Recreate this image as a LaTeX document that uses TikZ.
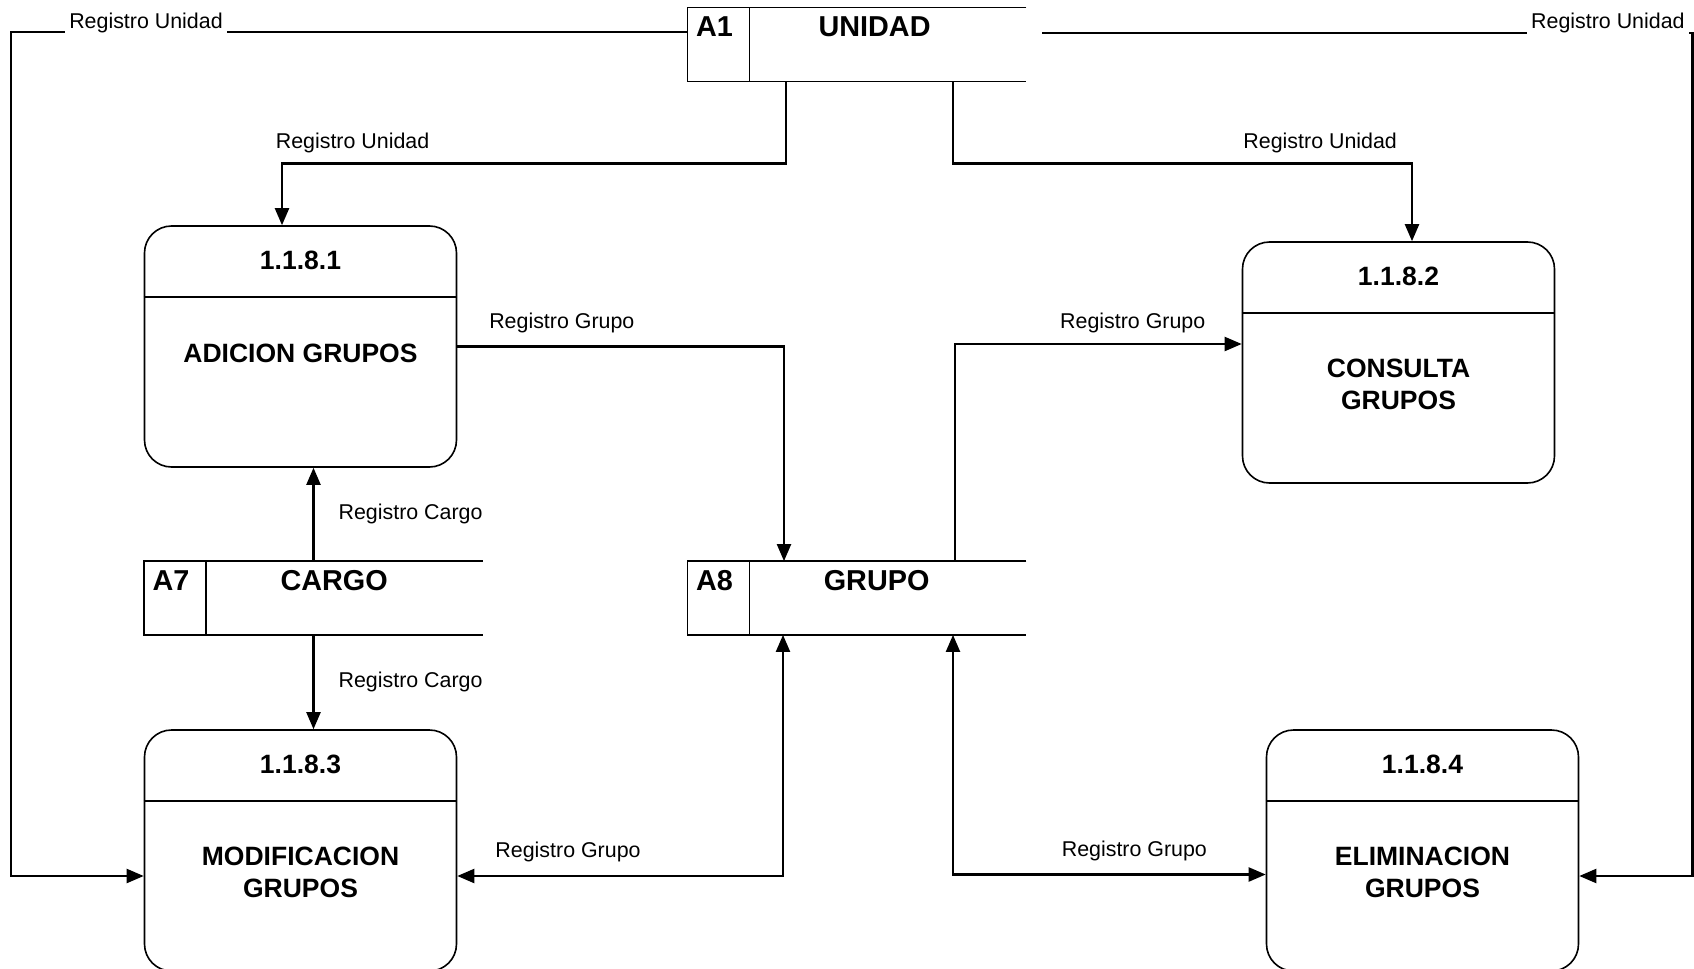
\documentclass[tikz,border=0pt]{standalone}
\usepackage{fontspec}
\setmainfont{Liberation Sans}
\usetikzlibrary{arrows.meta,positioning,calc}

\begin{document}
\begin{tikzpicture}[x=0.5pt,y=-0.5pt,
  proc/.style={draw,line width=0.8pt,rounded corners=13.5pt,minimum width=156pt,
               minimum height=120.5pt,inner sep=0pt},
  alm/.style={minimum width=169pt,minimum height=36.5pt,inner sep=0pt},
  borde/.style={line width=0.8pt},
  ptit/.style={font=\fontsize{13.25}{16}\selectfont\bfseries,align=center,inner sep=0pt},
  atit/.style={font=\fontsize{14.4}{16}\selectfont\bfseries,inner sep=0pt},
  etq/.style={font=\fontsize{10.7}{12}\selectfont,inner sep=2pt},
  flujo/.style={-{Triangle[length=8.5pt,width=7pt]},line width=1.1pt},
  flujo2/.style={{Triangle[length=8.5pt,width=7pt]}-{Triangle[length=8.5pt,width=7pt]},line width=1.1pt}
]
\useasboundingbox (0,0) rectangle (1694,969);

% almacenes
\node[alm] (a1) at (857,44.5) {};
\draw[borde] (a1.north east) -- (a1.north west) -- (a1.south west) -- (a1.south east);
\draw[borde] ([xshift=31pt]a1.north west) -- ([xshift=31pt]a1.south west);
\node[atit] (a1-id) at ([xshift=13.5pt,yshift=-9.5pt]a1.north west) {A1};
\node[atit] (a1-nom) at ([xshift=93.5pt,yshift=-9.5pt]a1.north west) {UNIDAD};

\node[alm] (a7) at (313.5,598) {};
\draw[borde] (a7.north east) -- (a7.north west) -- (a7.south west) -- (a7.south east);
\draw[borde] ([xshift=31pt]a7.north west) -- ([xshift=31pt]a7.south west);
\node[atit] (a7-id) at ([xshift=13.5pt,yshift=-9.5pt]a7.north west) {A7};
\node[atit] (a7-nom) at ([xshift=95pt,yshift=-9.5pt]a7.north west) {CARGO};

\node[alm] (a8) at (857,598) {};
\draw[borde] (a8.north east) -- (a8.north west) -- (a8.south west) -- (a8.south east);
\draw[borde] ([xshift=31pt]a8.north west) -- ([xshift=31pt]a8.south west);
\node[atit] (a8-id) at ([xshift=13.5pt,yshift=-9.5pt]a8.north west) {A8};
\node[atit] (a8-nom) at ([xshift=94.5pt,yshift=-9.5pt]a8.north west) {GRUPO};

% procesos
\node[proc] (p1) at (300.5,346.5) {};
\node[ptit] (p1-num) at ([yshift=-17.75pt]p1.north) {1.1.8.1};
\draw[borde] ([yshift=-36pt]p1.north west) -- ([yshift=-36pt]p1.north east);
\node[ptit] (p1-nom) at ([yshift=-64pt]p1.north) {ADICION GRUPOS};

\node[proc] (p2) at (1398.5,362.5) {};
\node[ptit] (p2-num) at ([yshift=-17.75pt]p2.north) {1.1.8.2};
\draw[borde] ([yshift=-36pt]p2.north west) -- ([yshift=-36pt]p2.north east);
\node[ptit] (p2-nom) at ([yshift=-71.5pt]p2.north) {CONSULTA\\GRUPOS};

\node[proc] (p3) at (300.5,850.5) {};
\node[ptit] (p3-num) at ([yshift=-17.75pt]p3.north) {1.1.8.3};
\draw[borde] ([yshift=-36pt]p3.north west) -- ([yshift=-36pt]p3.north east);
\node[ptit] (p3-nom) at ([yshift=-71.5pt]p3.north) {MODIFICACION\\GRUPOS};

\node[proc] (p4) at (1422.5,850.5) {};
\node[ptit] (p4-num) at ([yshift=-17.75pt]p4.north) {1.1.8.4};
\draw[borde] ([yshift=-36pt]p4.north west) -- ([yshift=-36pt]p4.north east);
\node[ptit] (p4-nom) at ([yshift=-71.5pt]p4.north) {ELIMINACION\\GRUPOS};

% flujos de UNIDAD
\draw[flujo] ([yshift=6.25pt]a1.west) -- node[etq,fill=white,pos=0.8,yshift=4.5pt] (e1) {Registro Unidad}
  ++(-677,0) |- ([yshift=-12.75pt]p3.west);
\draw[flujo] ([xshift=8pt,yshift=5.75pt]a1.east) -- node[etq,fill=white,pos=0.87,yshift=5pt] (e2) {Registro Unidad}
  ++(650,0) |- ([yshift=-12.75pt]p4.east);
\draw[flujo] ([xshift=-35.5pt]a1.south) -- ++(0,82)
  -| node[etq,above=2.5pt,pos=0.43] (e3) {Registro Unidad} ([xshift=-9.25pt]p1.north);
\draw[flujo] ([xshift=48pt]a1.south) -- ++(0,82)
  -| node[etq,above=2.5pt,pos=0.4] (e4) {Registro Unidad} ([xshift=6.75pt]p2.north);

% flujos de GRUPO
\draw[flujo] (p1.east) -| node[etq,above=4pt,pos=0.16] (e5) {Registro Grupo} ([xshift=-36.5pt]a8.north);
\draw[flujo] ([xshift=49pt]a8.north) |- node[etq,above=3pt,pos=0.81] (e6) {Registro Grupo} ([yshift=9.25pt]p2.west);
\draw[flujo2] ([xshift=-37pt]a8.south) |- node[etq,above=4.5pt,pos=0.83] (e7) {Registro Grupo} ([yshift=-12.75pt]p3.east);
\draw[flujo2] ([xshift=48pt]a8.south) |- node[etq,above=4pt,pos=0.79] (e8) {Registro Grupo} ([yshift=-12pt]p4.west);

% flujos de CARGO
\draw[flujo] (a7.north) -- node[etq,right=10pt] (e9) {Registro Cargo} (a7.north |- p1.south);
\draw[flujo] (a7.south) -- node[etq,right=10pt] (e10) {Registro Cargo} (a7.south |- p3.north);
\end{tikzpicture}
\end{document}
